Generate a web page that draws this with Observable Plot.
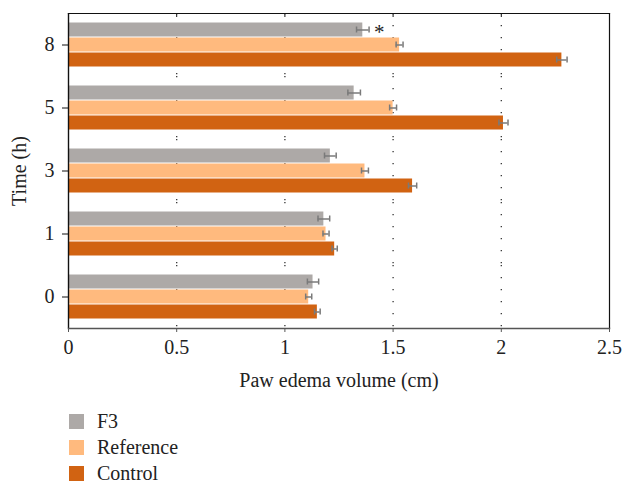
<!DOCTYPE html>
<html>
<head>
<meta charset="utf-8">
<script src="https://cdn.jsdelivr.net/npm/d3@7"></script>
<script src="https://cdn.jsdelivr.net/npm/@observablehq/plot@0.6"></script>
<style>
  html, body { margin: 0; padding: 0; background: #fff; overflow: hidden; }
  #chart { width: 624px; }
  .legend { font-family: "Liberation Serif", serif; font-size: 20px; line-height: 22px; color: #222; padding-top: 8px; }
  .legend .row { display: flex; align-items: center; height: 26px; padding-left: 69px; }
  .legend .sw { width: 15px; height: 15px; margin-right: 13px; }
</style>
</head>
<body>
<div id="chart"></div>
<script>
// Data
const times = ["8", "5", "3", "1", "0"];
const groups = ["F3", "Reference", "Control"];
const colors = ["#ADA9A7", "#FFBA7E", "#D16312"];
const f3Values = [1.36, 1.32, 1.21, 1.18, 1.13];
const f3Errors = [0.029, 0.029, 0.027, 0.027, 0.026];
const referenceValues = [1.53, 1.50, 1.37, 1.19, 1.11];
const referenceErrors = [0.016, 0.016, 0.016, 0.014, 0.014];
const controlValues = [2.28, 2.01, 1.59, 1.23, 1.15];
const controlErrors = [0.024, 0.021, 0.019, 0.012, 0.013];
const xTicks = [0, 0.5, 1, 1.5, 2, 2.5];
const gridTicks = [0.5, 1, 1.5, 2];
const significance = [{time: "8", group: "F3", label: "*"}];

const seriesValues = [f3Values, referenceValues, controlValues];
const seriesErrors = [f3Errors, referenceErrors, controlErrors];
const data = times.flatMap((t, i) => groups.map((g, j) => ({
  time: t, group: g, value: seriesValues[j][i], err: seriesErrors[j][i]
})));
const stars = significance.map(s => {
  const d = data.find(e => e.time === s.time && e.group === s.group);
  return {...s, x: d.value + d.err};
});

const chart = Plot.plot({
  width: 624,
  height: 400,
  marginLeft: 68,
  marginRight: 15,
  marginTop: 11,
  marginBottom: 71,
  style: {fontFamily: "Liberation Serif, serif", fontSize: "20px", color: "#222", background: "#fff"},
  x: {domain: [0, 2.5]},
  fy: {domain: times, padding: 0},
  y: {domain: groups, paddingInner: 0, paddingOuter: 0.5, axis: null},
  color: {domain: groups, range: colors},
  marks: [
    Plot.ruleX(gridTicks, {stroke: "#333", strokeWidth: 1.3, strokeDasharray: "1.3,10.7"}),
    Plot.barX(data, {fy: "time", y: "group", x: "value", fill: "group", insetTop: 0.5, insetBottom: 0.5}),
    Plot.ruleY(data, {fy: "time", y: "group", x1: d => d.value - d.err, x2: d => d.value + d.err, stroke: "#7a7a7a", strokeWidth: 1.5}),
    Plot.tickX(data, {fy: "time", y: "group", x: d => d.value - d.err, stroke: "#7a7a7a", strokeWidth: 1.5, insetTop: 4.5, insetBottom: 4.5}),
    Plot.tickX(data, {fy: "time", y: "group", x: d => d.value + d.err, stroke: "#7a7a7a", strokeWidth: 1.5, insetTop: 4.5, insetBottom: 4.5}),
    Plot.text(stars, {fy: "time", y: "group", x: "x", text: "label", textAnchor: "start", dx: 5, dy: 2, fontSize: 21, fill: "#222"}),
    Plot.ruleX([0], {stroke: "#111", strokeWidth: 1.4}),
    Plot.ruleX([2.5], {stroke: "#111", strokeWidth: 1.2}),
    Plot.frame({anchor: "top", facetAnchor: "top", stroke: "#111", strokeWidth: 1.2}),
    Plot.frame({anchor: "bottom", facetAnchor: "bottom", stroke: "#555", strokeWidth: 1.6}),
    Plot.axisX({anchor: "top", ticks: gridTicks, tickSize: -3, tickFormat: () => "", label: null, stroke: "#111"}),
    Plot.axisX({anchor: "bottom", ticks: xTicks, tickSize: 4, tickPadding: 7, tickFormat: d => String(d), stroke: "#555",
      label: "Paw edema volume (cm)", labelArrow: false, labelAnchor: "center", labelOffset: 58, fontSize: 20}),
    Plot.axisFy({anchor: "left", tickSize: 6, tickPadding: 8, stroke: "#111",
      label: "Time (h)", labelArrow: false, labelAnchor: "center", labelOffset: 57, fontSize: 20})
  ]
});
document.getElementById("chart").appendChild(chart);

const legend = document.createElement("div");
legend.className = "legend";
groups.forEach((g, i) => {
  const row = document.createElement("div");
  row.className = "row";
  const sw = document.createElement("span");
  sw.className = "sw";
  sw.style.background = colors[i];
  const label = document.createElement("span");
  label.textContent = g;
  row.appendChild(sw);
  row.appendChild(label);
  legend.appendChild(row);
});
document.getElementById("chart").appendChild(legend);
</script>
</body>
</html>
